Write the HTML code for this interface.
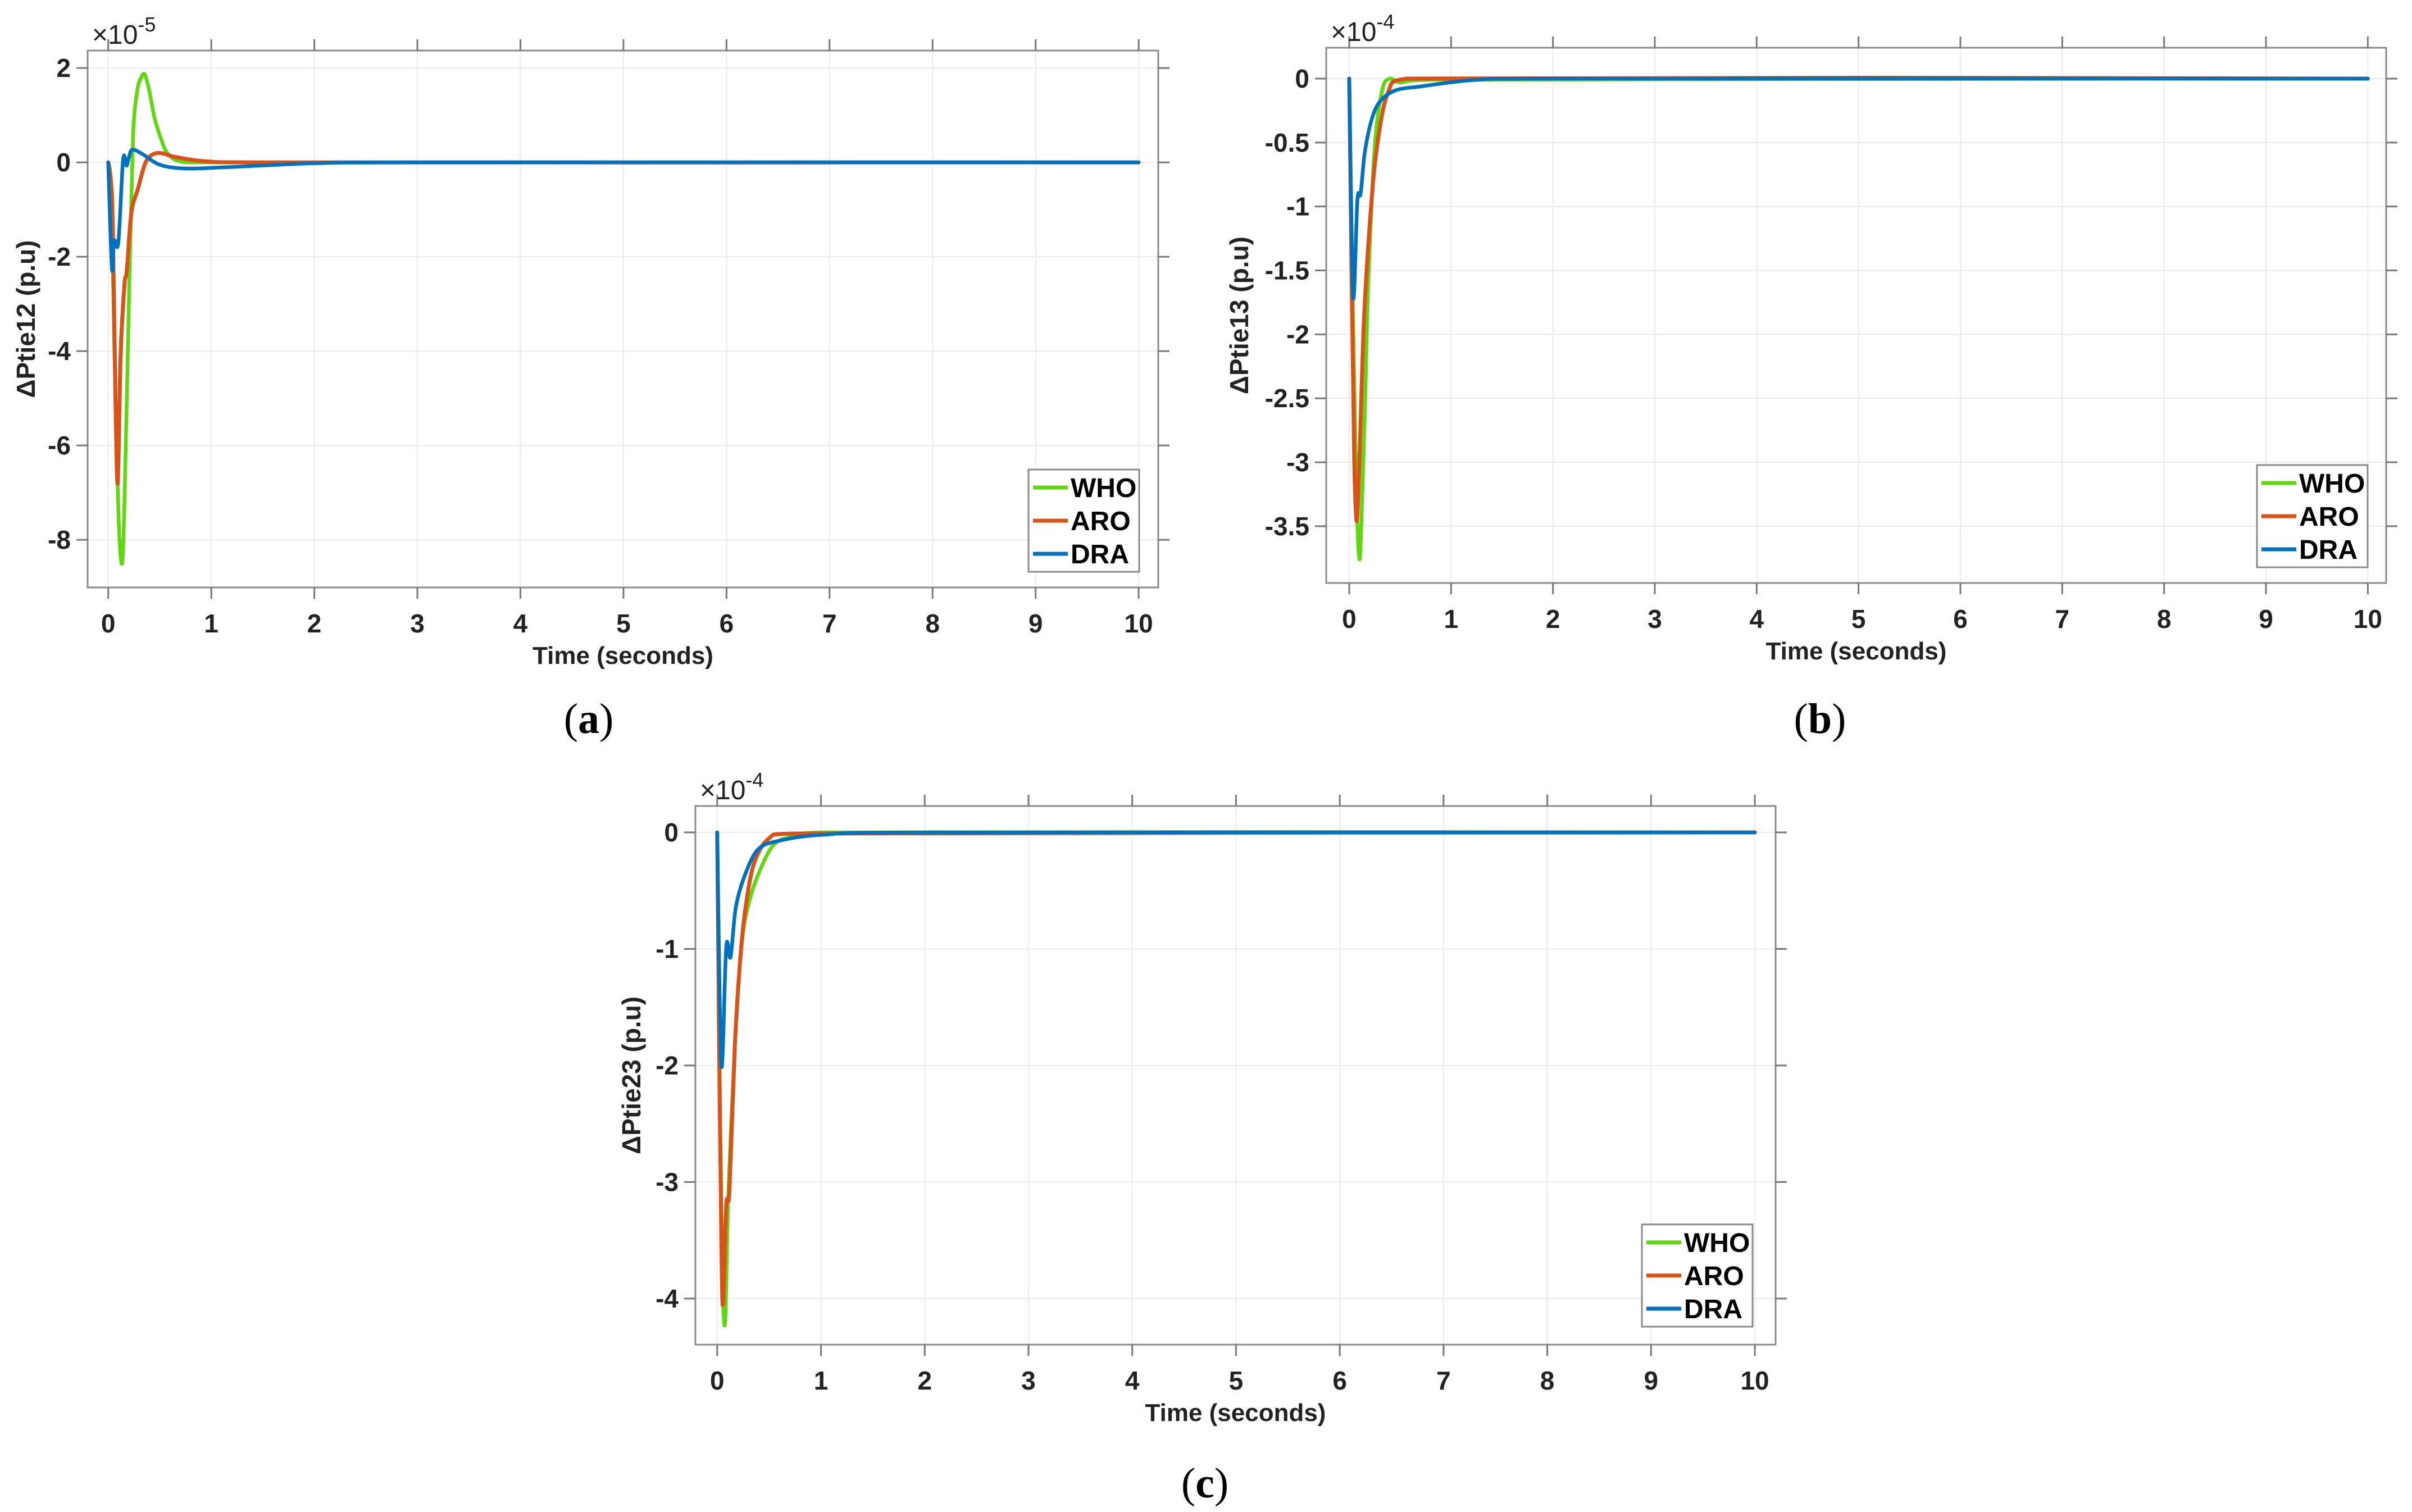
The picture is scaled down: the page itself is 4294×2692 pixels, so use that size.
<!DOCTYPE html>
<html><head><meta charset="utf-8">
<style>
html,body{margin:0;padding:0;background:#fff;}
svg{display:block;}
</style></head>
<body>
<svg id="fig" width="4294" height="2692" viewBox="0 0 4294 2692" xmlns="http://www.w3.org/2000/svg" font-family="Liberation Sans, Arial, sans-serif">
<rect width="4294" height="2692" fill="#fff"/>
</svg>
<script>
// ---------- data (a) : units 1e-5 ----------
const aWhoT = [0,0.03,0.06,0.1,0.134,0.16,0.2,0.24,0.28,0.32,0.356,0.4,0.45,0.52,0.58,0.7,1,10];
const aWhoV = [0,-0.6,-4,-7.5,-8.5,-7,-3,0.5,1.5,1.8,1.86,1.5,0.94,0.45,0.18,0.02,0,0];
const aAroT = [0,0.03,0.046,0.07,0.092,0.12,0.157,0.18,0.224,0.287,0.35,0.4,0.475,0.55,0.64,0.956,1.5,10];
const aAroV = [0,-0.5,-1.6,-5,-6.8,-4.1,-2.6,-2.3,-1.07,-0.57,-0.07,0.12,0.2,0.18,0.12,0.02,0,0];
const aDraT = [0,0.036,0.056,0.098,0.144,0.178,0.2,0.234,0.33,0.5,0.747,1.165,2,3,10];
const aDraV = [0,-2.25,-1.66,-1.7,0.06,-0.07,0.1,0.27,0.18,-0.05,-0.13,-0.1,-0.02,0,0];
// ---------- data (b) : units 1e-4 ----------
const bWhoT = [0,0.03,0.07,0.101,0.13,0.16,0.186,0.249,0.323,0.4,0.5,0.8,10];
const bWhoV = [0,-1.5,-3.2,-3.76,-3.2,-2.4,-1.62,-0.55,-0.09,0,-0.03,-0.008,0];
const bAroT = [0,0.027,0.05,0.074,0.1,0.144,0.207,0.27,0.376,0.566,10];
const bAroV = [0,-1.73,-3.0,-3.46,-3.0,-1.9,-1.08,-0.55,-0.12,0,0];
const bDraT = [0,0.038,0.08,0.112,0.154,0.228,0.312,0.46,0.713,1.24,2,10];
const bDraV = [0,-1.7,-0.95,-0.9,-0.57,-0.3,-0.17,-0.09,-0.06,-0.01,0,0];
// ---------- data (c) : units 1e-4 ----------
const cWhoT = [0,0.025,0.05,0.077,0.108,0.17,0.232,0.295,0.4,0.54,0.71,1,10];
const cWhoV = [0,-2.2,-3.8,-4.2,-3.1,-1.83,-1,-0.64,-0.35,-0.11,-0.04,0,0];
const cAroT = [0,0.021,0.04,0.056,0.087,0.118,0.17,0.222,0.274,0.357,0.5,0.71,10];
const cAroV = [0,-2,-3.5,-4.05,-3.2,-3.07,-1.83,-1.09,-0.64,-0.26,-0.05,-0.01,0];
const cDraT = [0,0.04,0.087,0.129,0.18,0.274,0.4,0.606,1.02,2,10];
const cDraV = [0,-2.0,-0.98,-1.07,-0.64,-0.35,-0.14,-0.07,-0.02,0,0];
const xTicks = [0,1,2,3,4,5,6,7,8,9,10];
const aYTicks = [-8,-6,-4,-2,0,2];
const bYTicks = [-3.5,-3,-2.5,-2,-1.5,-1,-0.5,0];
const cYTicks = [-4,-3,-2,-1,0];
const seriesNames = ["WHO","ARO","DRA"];
const colors = ["#5fd80f","#d95319","#0072bd"];

const NS="http://www.w3.org/2000/svg";
const svg=document.getElementById('fig');
function mk(tag,attrs,parent){const e=document.createElementNS(NS,tag);for(const k in attrs)e.setAttribute(k,attrs[k]);(parent||svg).appendChild(e);return e;}

// Catmull-Rom smoothing through pixel points
function smoothPath(pts){
  let d='M'+pts[0][0].toFixed(1)+','+pts[0][1].toFixed(1);
  for(let i=0;i<pts.length-1;i++){
    const p0=pts[Math.max(0,i-1)],p1=pts[i],p2=pts[i+1],p3=pts[Math.min(pts.length-1,i+2)];
    const k=0.16;
    const c1=[p1[0]+(p2[0]-p0[0])*k,p1[1]+(p2[1]-p0[1])*k];
    const c2=[p2[0]-(p3[0]-p1[0])*k,p2[1]-(p3[1]-p1[1])*k];
    // keep control x within segment to avoid backtracking
    c1[0]=Math.min(Math.max(c1[0],p1[0]),p2[0]);
    c2[0]=Math.min(Math.max(c2[0],p1[0]),p2[0]);
    d+=' C'+c1[0].toFixed(1)+','+c1[1].toFixed(1)+' '+c2[0].toFixed(1)+','+c2[1].toFixed(1)+' '+p2[0].toFixed(1)+','+p2[1].toFixed(1);
  }
  return d;
}

function panel(p){
  const g=mk('g',{});
  
  
  const sx=t=>p.L+(t-p.xmin)/(p.xmax-p.xmin)*(p.R-p.L);
  const sy=v=>p.B-(v-p.ymin)/(p.ymax-p.ymin)*(p.B-p.T);
  xTicks.forEach(t=>{const l=mk('line',{x1:sx(t),x2:sx(t),y1:p.T,y2:p.B,stroke:'#ebebeb','stroke-width':2},g);
    
    });
  p.yt.forEach(v=>{const l=mk('line',{x1:p.L,x2:p.R,y1:sy(v),y2:sy(v),stroke:'#ebebeb','stroke-width':2},g);
    
    });
  p.series.forEach((s,i)=>{
    const pts=s[0].map((t,j)=>[sx(t),sy(s[1][j])]);
    const path=mk('path',{d:smoothPath(pts),fill:'none',stroke:colors[i],'stroke-width':i==1?7:6.5,'stroke-linejoin':'round','stroke-linecap':'round'},g);
    
    
  });
  const box=mk('rect',{x:p.L,y:p.T,width:p.R-p.L,height:p.B-p.T,fill:'none',stroke:'#8a8a8a','stroke-width':3},g);
  
  
  xTicks.forEach(t=>{
    mk('line',{x1:sx(t),x2:sx(t),y1:p.B,y2:p.B+20,stroke:'#777','stroke-width':3},g);
    mk('line',{x1:sx(t),x2:sx(t),y1:p.T,y2:p.T-20,stroke:'#777','stroke-width':3},g);
    const tx=mk('text',{x:sx(t),y:p.B+80,'font-size':46,'font-weight':'bold','text-anchor':'middle',fill:'#222'},g);
    tx.textContent=t;
    
    
  });
  p.yt.forEach(v=>{
    mk('line',{x1:p.L,x2:p.L-20,y1:sy(v),y2:sy(v),stroke:'#777','stroke-width':3},g);
    mk('line',{x1:p.R,x2:p.R+20,y1:sy(v),y2:sy(v),stroke:'#777','stroke-width':3},g);
    const tx=mk('text',{x:p.L-30,y:sy(v)+16,'font-size':46,'font-weight':'bold','text-anchor':'end',fill:'#222'},g);
    tx.textContent=v;
    
    
  });
  const ex=mk('text',{x:p.L+8,y:p.T-12,'font-size':48,fill:'#222'},g);
  ex.innerHTML='×10<tspan dy="-22" font-size="36">'+p.exp+'</tspan>';
  
  
  const xt=mk('text',{x:(p.L+p.R)/2,y:p.B+136,'font-size':44,'font-weight':'bold','text-anchor':'middle',fill:'#222'},g);
  xt.textContent='Time (seconds)';
  
  
  const yc=(p.T+p.B)/2;
  const yt=mk('text',{x:p.ylx,y:yc,'font-size':46,'font-weight':'bold','text-anchor':'middle',fill:'#222',transform:'rotate(-90 '+p.ylx+' '+yc+')'},g);
  yt.textContent=p.ylabel;
  
  
  const lg=mk('g',{},g);
  
  
  mk('rect',{x:p.lgx,y:p.lgy,width:197,height:182,fill:'#fff',stroke:'#8a8a8a','stroke-width':3},lg);
  seriesNames.forEach((n,i)=>{
    const yy=p.lgy+32+i*59;
    const e=mk('g',{},lg);
    
    
    mk('line',{x1:p.lgx+8,x2:p.lgx+70,y1:yy,y2:yy,stroke:colors[i],'stroke-width':7},e);
    const t=mk('text',{x:p.lgx+75,y:yy+17,'font-size':48,'font-weight':'bold',fill:'#000'},e);
    t.textContent=n;
  });
  const cap=mk('text',{x:p.capx,y:p.capy,'font-size':76,'text-anchor':'middle',fill:'#000',style:'font-family:"Liberation Serif",serif'},g);
  cap.innerHTML='(<tspan font-weight="bold">'+p.cap+'</tspan>)';
  
  
}

panel({name:'chart-a',L:156,R:2062,T:90,B:1046,xmin:-0.2,xmax:10.19,ymin:-9.01,ymax:2.37,yt:aYTicks,exp:'-5',
  ylabel:'ΔPtie12 (p.u)',ylx:62,lgx:1831,lgy:836,capx:1048,capy:1305,cap:'a',
  series:[[aWhoT,aWhoV],[aAroT,aAroV],[aDraT,aDraV]]});
panel({name:'chart-b',L:2361,R:4248,T:85,B:1038,xmin:-0.226,xmax:10.18,ymin:-3.944,ymax:0.2415,yt:bYTicks,exp:'-4',
  ylabel:'ΔPtie13 (p.u)',ylx:2222,lgx:4018,lgy:828,capx:3240,capy:1305,cap:'b',
  series:[[bWhoT,bWhoV],[bAroT,bAroV],[bDraT,bDraV]]});
panel({name:'chart-c',L:1238,R:3161,T:1435,B:2394,xmin:-0.21,xmax:10.2,ymin:-4.395,ymax:0.2265,yt:cYTicks,exp:'-4',
  ylabel:'ΔPtie23 (p.u)',ylx:1140,lgx:2923,lgy:2180,capx:2145,capy:2666,cap:'c',
  series:[[cWhoT,cWhoV],[cAroT,cAroV],[cDraT,cDraV]]});
</script>
</body></html>
